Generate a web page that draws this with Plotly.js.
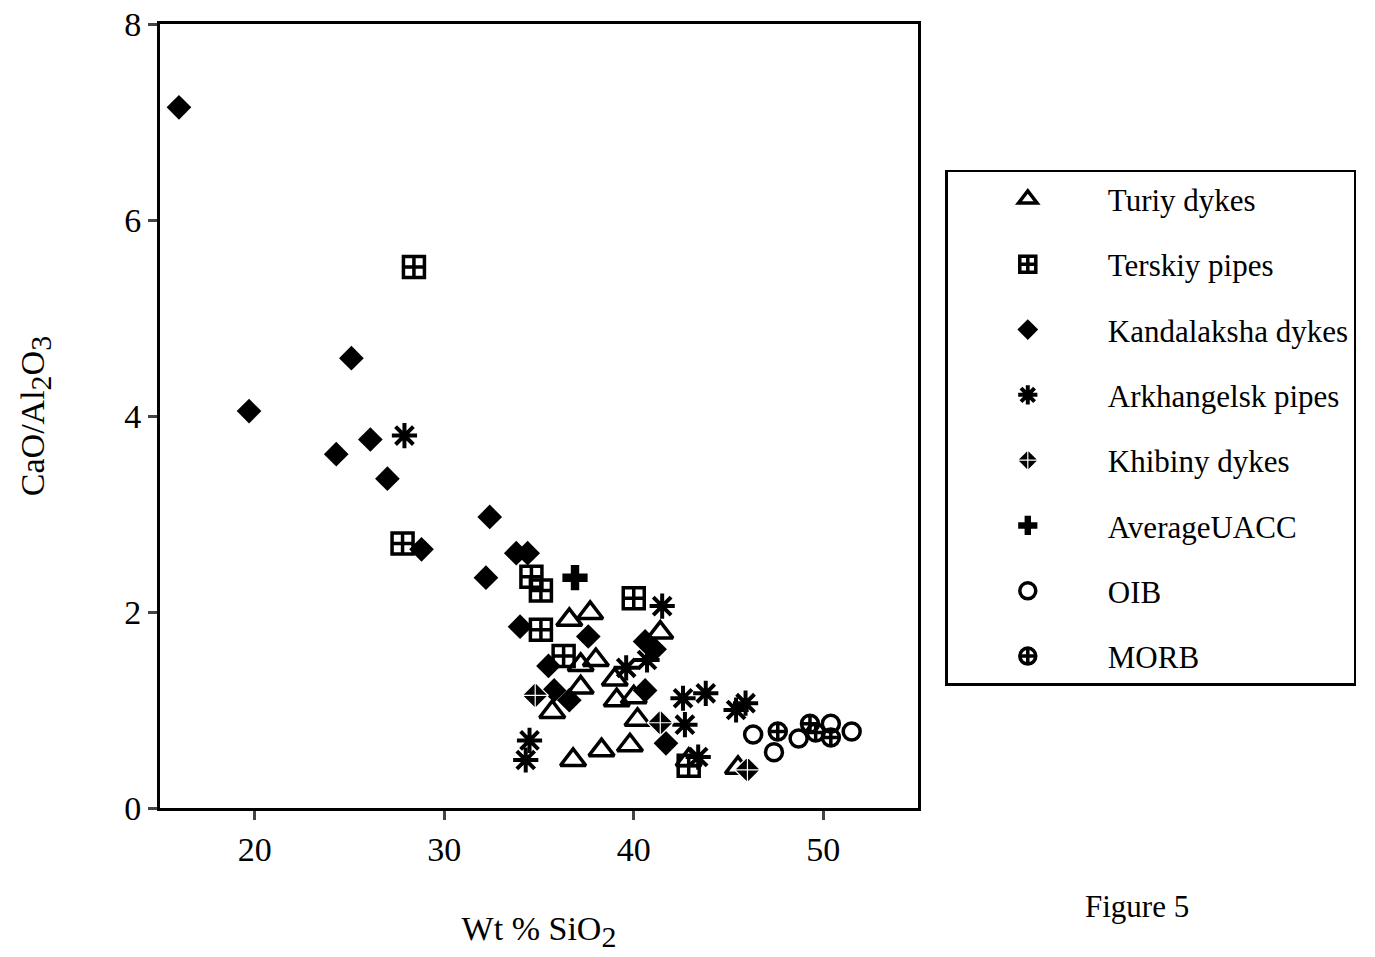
<!DOCTYPE html>
<html>
<head>
<meta charset="utf-8">
<script src="https://cdn.plot.ly/plotly-3.0.1.min.js"></script>
<style>html,body{margin:0;padding:0;background:#fff;}#chart{width:1375px;height:957px;}</style>
</head>
<body>
<div id="chart"></div>
<script>
// Turiy dykes
const turiyX = [36.6, 37.7, 37.2, 38.0, 35.7, 37.2, 41.4, 39.0, 39.1, 40.0, 40.2, 36.8, 38.3, 39.8, 42.9, 45.5];
const turiyY = [1.92, 1.99, 1.46, 1.51, 0.98, 1.23, 1.79, 1.31, 1.10, 1.13, 0.90, 0.49, 0.59, 0.64, 0.49, 0.41];
// Terskiy pipes
const terskiyX = [28.4, 27.8, 34.6, 35.1, 35.1, 36.3, 40.0, 42.9];
const terskiyY = [5.52, 2.70, 2.36, 2.22, 1.82, 1.55, 2.14, 0.43];
// Kandalaksha dykes
const kandX = [16.0, 19.7, 25.1, 24.3, 26.1, 27.0, 28.8, 32.4, 32.2, 33.8, 34.4, 34.0, 37.6, 35.5, 35.8, 36.6, 40.6, 41.1, 40.6, 41.7];
const kandY = [7.15, 4.05, 4.59, 3.61, 3.76, 3.36, 2.64, 2.97, 2.35, 2.60, 2.60, 1.85, 1.75, 1.45, 1.20, 1.10, 1.70, 1.62, 1.20, 0.66];
// Arkhangelsk pipes
const arkhX = [27.9, 41.5, 34.5, 34.3, 39.6, 40.7, 42.6, 43.8, 45.4, 45.9, 42.7, 43.4];
const arkhY = [3.80, 2.06, 0.69, 0.49, 1.43, 1.51, 1.12, 1.17, 1.00, 1.07, 0.85, 0.52];
// Khibiny dykes
const khibX = [34.8, 41.4, 46.0];
const khibY = [1.15, 0.87, 0.39];
// Average UACC
const uaccX = [36.9];
const uaccY = [2.35];
// OIB
const oibX = [46.3, 47.4, 48.7, 50.4, 51.5];
const oibY = [0.75, 0.57, 0.71, 0.86, 0.78];
// MORB
const morbX = [47.6, 49.3, 49.6, 50.4];
const morbY = [0.78, 0.86, 0.77, 0.72];

const serif = "Liberation Serif, Times New Roman, serif";
function tr(name, x, y, sym, size, color, lineColor, lw) {
  return {type: 'scatter', mode: 'markers', name: name, x: x, y: y, legendgroup: name,
    marker: {symbol: sym, size: size, color: color, line: {color: lineColor, width: lw}},
    cliponaxis: false};
}
const data = [
  tr('Turiy dykes', turiyX, turiyY, 'triangle-up-open', 22, '#000', '#000', 3.5),
  tr('Terskiy pipes', terskiyX, terskiyY, 'square-cross-open', 21, '#000', '#000', 3.5),
  tr('Kandalaksha dykes', kandX, kandY, 'diamond', 19, '#000', '#000', 0),
  tr('Arkhangelsk pipes', arkhX, arkhY, 'asterisk-open', 21, '#000', '#000', 4),
  tr('Khibiny dykes', khibX, khibY, 'diamond-cross', 20, '#000', '#fff', 1.2),
  tr('AverageUACC', uaccX, uaccY, 'cross', 21, '#000', '#000', 0),
  tr('OIB', oibX, oibY, 'circle-open', 17, '#000', '#000', 3.5),
  tr('MORB', morbX, morbY, 'circle-cross-open', 17, '#000', '#000', 3.5)
];
const sub = (t) => '<sub><span style="font-size:30px">' + t + '</span></sub>';
const layout = {
  width: 1375, height: 957,
  margin: {l: 160, r: 457, t: 24, b: 149},
  paper_bgcolor: '#fff', plot_bgcolor: '#fff',
  font: {family: serif, color: '#000', size: 34},
  showlegend: true,
  legend: {x: 1.036, y: 0.814, xanchor: 'left', yanchor: 'top',
    bordercolor: '#000', borderwidth: 2.5, bgcolor: '#fff',
    font: {family: serif, size: 31, color: '#000'},
    tracegroupgap: 22, itemwidth: 150},
  xaxis: {range: [15, 55], tickvals: [20, 30, 40, 50], ticks: 'outside', ticklen: 9, tickwidth: 3,
    showline: true, linecolor: '#000', linewidth: 3, mirror: true, showgrid: false, zeroline: false,
    tickfont: {family: serif, size: 34},
    title: {text: 'Wt % SiO' + sub('2'), font: {family: serif, size: 34}, standoff: 50}},
  yaxis: {range: [0, 8], tickvals: [0, 2, 4, 6, 8], ticks: 'outside', ticklen: 9, tickwidth: 3,
    showline: true, linecolor: '#000', linewidth: 3, mirror: true, showgrid: false, zeroline: false,
    tickfont: {family: serif, size: 34},
    title: {text: 'CaO/Al' + sub('2') + 'O' + sub('3'), font: {family: serif, size: 34}, standoff: 70}},
  annotations: [{text: 'Figure 5', xref: 'paper', yref: 'paper', x: 1.289, y: -0.126,
    xanchor: 'center', yanchor: 'middle', showarrow: false, font: {family: serif, size: 31, color: '#000'}}]
};
Plotly.newPlot('chart', data, layout, {displayModeBar: false, staticPlot: true});
</script>
</body>
</html>
